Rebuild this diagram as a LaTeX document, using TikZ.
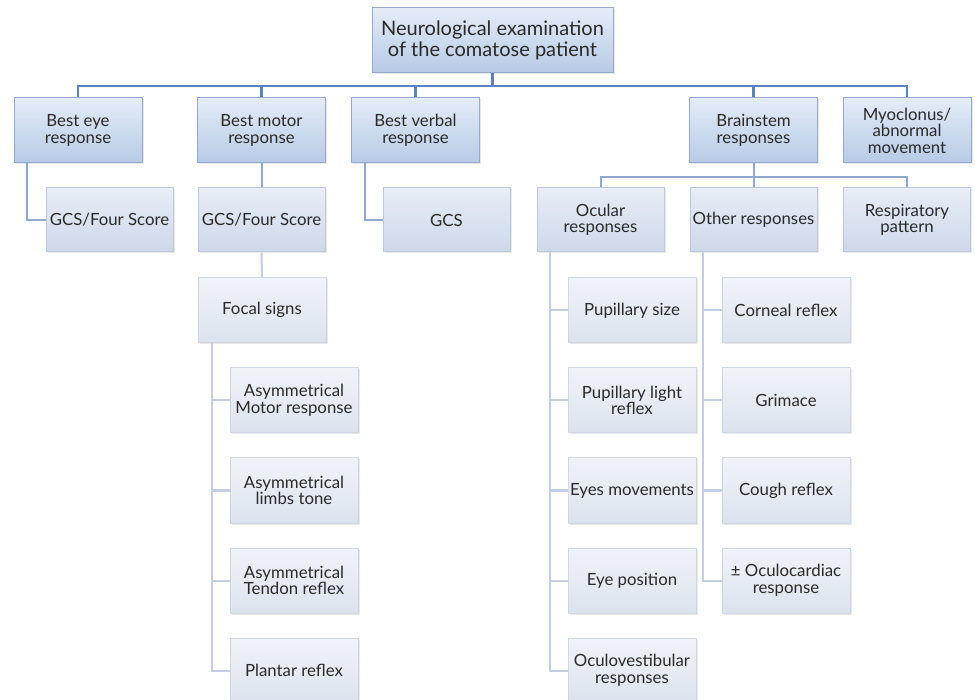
\documentclass[tikz,border=0pt]{standalone}
\usepackage{fontspec}
\setmainfont{Lato}
\usetikzlibrary{shadows}
\definecolor{txt}{HTML}{2A2A2A}
\definecolor{aTop}{HTML}{E4ECF8}
\definecolor{aBot}{HTML}{B7CAE5}
\definecolor{aLine}{HTML}{94ABCE}
\definecolor{bTop}{HTML}{E8EDF6}
\definecolor{bBot}{HTML}{CDD8EA}
\definecolor{bLine}{HTML}{BCC8DE}
\definecolor{cTop}{HTML}{F0F3F8}
\definecolor{cBot}{HTML}{DCE3EE}
\definecolor{cLine}{HTML}{CFD7E5}
\definecolor{busA}{HTML}{5B83BD}
\definecolor{busB}{HTML}{8FA8CF}
\definecolor{busC}{HTML}{C3CEE2}
\tikzset{
  boxbase/.style={rectangle, align=center, text=txt, inner sep=1pt,
     drop shadow={opacity=0.18, shadow xshift=1.5pt, shadow yshift=-1.5pt}},
  boxA/.style={boxbase, draw=aLine, line width=1pt, top color=aTop, bottom color=aBot,
     minimum width=128pt, minimum height=65pt, font=\fontsize{16.8}{16.5}\selectfont},
  boxTop/.style={boxA, minimum width=241pt, minimum height=65pt, font=\fontsize{20}{20.5}\selectfont},
  boxB/.style={boxbase, draw=bLine, line width=1pt, top color=bTop, bottom color=bBot,
     minimum width=127pt, minimum height=64pt, font=\fontsize{16.8}{16.5}\selectfont},
  boxC/.style={boxbase, draw=cLine, line width=1pt, top color=cTop, bottom color=cBot,
     minimum width=128pt, minimum height=65pt, font=\fontsize{16.8}{16.5}\selectfont},
  linkA/.style={draw=busA, line width=2.5pt},
  linkB/.style={draw=busB, line width=2pt},
  linkC/.style={draw=busC, line width=2pt},
}
\begin{document}
\begin{tikzpicture}[x=1pt,y=-1pt]
\useasboundingbox[fill=white] (0,0) rectangle (975,700);
% top
\node[boxTop] (top) at (492.5,40.5) {Neurological examination\\of the comatose patient};
% level 1
\node[boxA] (eye) at (78,130.5) {Best eye\\response};
\node[boxA] (motor) at (261.5,130.5) {Best motor\\response};
\node[boxA] (verbal) at (415.5,130.5) {Best verbal\\response};
\node[boxA] (brain) at (753.5,130.5) {Brainstem\\responses};
\node[boxA] (myo) at (907,130.5) {Myoclonus/\\abnormal\\movement};
% level 2
\node[boxB] (gcsA) at (109.5,220) {GCS/Four Score};
\node[boxB] (gcsB) at (261.5,220) {GCS/Four Score};
\node[boxB] (gcsC) at (446.5,220) {GCS};
\node[boxB] (ocular) at (600.5,220) {Ocular\\responses};
\node[boxB] (other) at (753.5,220) {Other responses};
\node[boxB] (resp) at (907,220) {Respiratory\\pattern};
% focal
\node[boxC] (focal) at (262,310) {Focal signs};
\node[boxC] (fA) at (294,400.5) {Asymmetrical\\Motor response};
\node[boxC] (fB) at (294,490.5) {Asymmetrical\\limbs tone};
\node[boxC] (fC) at (294,580.5) {Asymmetrical\\Tendon reflex};
\node[boxC] (fD) at (294,670.5) {Plantar reflex};
% ocular
\node[boxC] (oA) at (632,310.5) {Pupillary size};
\node[boxC] (oB) at (632,400.5) {Pupillary light\\reflex};
\node[boxC] (oC) at (632,490.5) {Eyes movements};
\node[boxC] (oD) at (632,580.5) {Eye position};
\node[boxC] (oE) at (632,670.5) {Oculovestibular\\responses};
% other
\node[boxC] (rA) at (786,310.5) {Corneal reflex};
\node[boxC] (rB) at (786,400.5) {Grimace};
\node[boxC] (rC) at (786,490.5) {Cough reflex};
\node[boxC] (rD) at (786,580.5) {± Oculocardiac\\response};
% connectors
\coordinate (busL) at (top.south |- 0,86);
\foreach \n in {eye,motor,verbal,brain,myo}{
  \draw[linkA] (top.south) -- (busL) -| (\n.north);
}
\draw[linkB] ([xshift=-51pt]eye.south) |- (gcsA.west);
\draw[linkB] (motor.south) -- (gcsB.north);
\draw[linkB] ([xshift=-50.5pt]verbal.south) |- (gcsC.west);
\coordinate (busM) at (brain.south |- 0,177);
\foreach \n in {ocular,other,resp}{
  \draw[linkB] (brain.south) -- (busM) -| (\n.north);
}
\draw[linkC] (gcsB.south) -- (focal.north);
\foreach \n in {fA,fB,fC,fD}{
  \draw[linkC] ([xshift=-50pt]focal.south) |- (\n.west);
}
\foreach \n in {oA,oB,oC,oD,oE}{
  \draw[linkC] ([xshift=-50.5pt]ocular.south) |- (\n.west);
}
\foreach \n in {rA,rB,rC,rD}{
  \draw[linkC] ([xshift=-50.5pt]other.south) |- (\n.west);
}
\end{tikzpicture}
\end{document}
